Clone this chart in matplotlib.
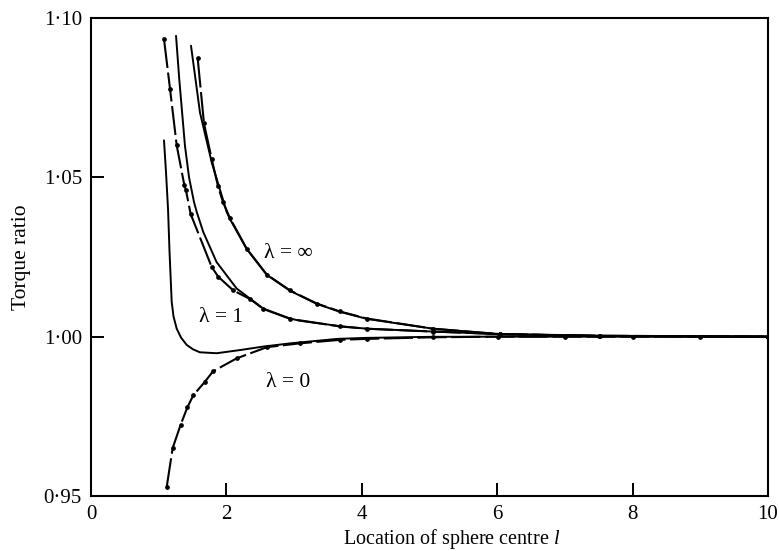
import matplotlib
matplotlib.use("Agg")
import matplotlib.pyplot as plt
from matplotlib.ticker import FuncFormatter

plt.rcParams['font.family'] = ['Liberation Serif', 'DejaVu Serif']
plt.rcParams['mathtext.fontset'] = 'custom'
plt.rcParams['mathtext.rm'] = 'Liberation Serif'
plt.rcParams['mathtext.it'] = 'Liberation Serif:italic'

# Curve A: solid curve with a minimum
xA = [1.078, 1.108, 1.138, 1.160, 1.192, 1.219, 1.266, 1.330, 1.414, 1.509, 1.608, 1.855, 2.202, 2.548, 2.944, 3.637, 4.033, 5.02, 6.01, 7.99, 10.0]
yA = [1.0616, 1.0516, 1.0400, 1.0266, 1.0109, 1.0063, 1.0025, 0.9997, 0.9974, 0.9960, 0.9951, 0.9948, 0.9958, 0.9969, 0.9979, 0.9993, 0.9996, 0.99995, 1.0, 1.0, 1.0]

# Curve B: lambda = 0, dashed with points
xB = [1.118, 1.207, 1.325, 1.423, 1.511, 1.684, 1.802, 2.152, 2.598, 3.083, 3.676, 4.072, 5.052, 6.01, 7.0, 8.0, 9.0, 10.0]
yB = [0.9528, 0.9651, 0.9724, 0.9778, 0.9816, 0.9859, 0.9891, 0.9932, 0.9967, 0.9979, 0.9990, 0.9993, 0.9998, 1.0, 1.0, 1.0, 1.0, 1.0]

# Curve C: lambda = 1, solid
xC = [1.256, 1.304, 1.388, 1.448, 1.522, 1.562, 1.659, 1.855, 2.152, 2.545, 2.940, 3.083, 3.676, 4.072, 5.052, 6.04, 7.5, 10.0]
yC = [1.0944, 1.0807, 1.0599, 1.0500, 1.0422, 1.0391, 1.0328, 1.0234, 1.0151, 1.0088, 1.0057, 1.0050, 1.0033, 1.0025, 1.0016, 1.0008, 1.0003, 1.0]

# Curve D: lambda = 1, dashed with points
xD = [1.078, 1.167, 1.266, 1.378, 1.403, 1.472, 1.782, 1.880, 2.102, 2.350, 2.545, 2.940, 3.676, 4.072, 5.052, 6.04, 7.5, 10.0]
yD = [1.0934, 1.0778, 1.0600, 1.0476, 1.0459, 1.0385, 1.0219, 1.0188, 1.0145, 1.0118, 1.0087, 1.0056, 1.0032, 1.0025, 1.0016, 1.0008, 1.0003, 1.0]

# Curve F: lambda = infinity, solid
xF = [1.477, 1.610, 1.783, 2.005, 2.053, 2.300, 2.596, 2.940, 3.334, 3.678, 4.072, 5.052, 6.04, 7.52, 10.0]
yF = [1.0913, 1.0703, 1.0547, 1.0391, 1.0369, 1.0275, 1.0194, 1.0144, 1.0103, 1.0078, 1.0056, 1.0025, 1.0008, 1.0002, 1.0]

# Curve G: lambda = infinity, dashed with points
xG = [1.576, 1.669, 1.783, 1.876, 1.950, 2.053, 2.300, 2.596, 2.940, 3.334, 3.678, 4.072, 5.052, 6.04, 7.52, 10.0]
yG = [1.0873, 1.0669, 1.0557, 1.0472, 1.0422, 1.0372, 1.0276, 1.0195, 1.0145, 1.0104, 1.0079, 1.0057, 1.0025, 1.0008, 1.0002, 1.0]

x_ticks = [0, 2, 4, 6, 8, 10]
y_ticks = [0.95, 1.00, 1.05, 1.10]

labels = ['λ = ∞', 'λ = 1', 'λ = 0']
label_x = [2.91, 1.916, 2.905]
label_y = [1.0262, 1.0060, 0.9856]

fig = plt.figure(figsize=(7.79, 5.51), dpi=100)
ax = fig.add_axes([91/779, 55/551, 677/779, 478/551])

solid_kw = dict(color='black', lw=1.4, solid_capstyle='round')
dash_kw = dict(color='black', lw=1.5, linestyle=(0, (14, 2.2)), marker='o', markersize=2.4)

ax.plot(xA, yA, **solid_kw)
ax.plot(xC, yC, **solid_kw)
ax.plot(xF, yF, **solid_kw)
ax.plot(xB, yB, **dash_kw)
ax.plot(xD, yD, **dash_kw)
ax.plot(xG, yG, **dash_kw)

for t, lx, ly in zip(labels, label_x, label_y):
    ax.text(lx, ly, t, fontsize=15.5, ha='center', va='center')

ax.set_xlim(0, 10)
ax.set_ylim(0.95, 1.10)
ax.set_xticks(x_ticks)
ax.set_yticks(y_ticks)
ax.yaxis.set_major_formatter(FuncFormatter(lambda v, p: f"{v:.2f}".replace('.', '\u00b7')))
ax.tick_params(direction='in', length=9.5, width=1.4, labelsize=15, pad=6.5)
for s in ax.spines.values():
    s.set_linewidth(1.5)

ax.set_xlabel('Location of sphere centre $\\it{l}$', fontsize=14.5)
ax.xaxis.set_label_coords(0.533, -0.064)
ax.set_ylabel('Torque ratio', fontsize=15.5)
ax.yaxis.set_label_coords(-0.088, 0.5)

fig.savefig('out.png', dpi=100)
